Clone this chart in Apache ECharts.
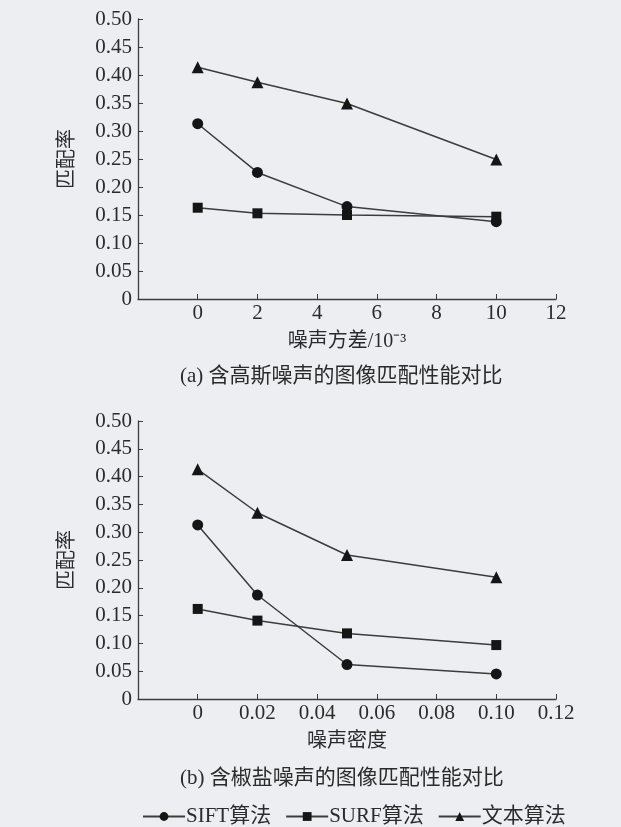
<!DOCTYPE html>
<html>
<head>
<meta charset="utf-8">
<script src="https://cdn.jsdelivr.net/npm/echarts@6/dist/echarts.min.js"></script>
<style>
html,body{margin:0;padding:0;background:#eceef2;}
#c{width:621px;height:827px;}
</style>
</head>
<body>
<div id="c"></div>
<script>
var xA = [0, 2, 5, 10];
var siftA = [0.313, 0.226, 0.165, 0.138];
var surfA = [0.163, 0.153, 0.150, 0.147];
var textA = [0.414, 0.387, 0.349, 0.249];

var xB = [0, 0.02, 0.05, 0.10];
var siftB = [0.313, 0.187, 0.062, 0.045];
var surfB = [0.162, 0.141, 0.118, 0.097];
var textB = [0.413, 0.335, 0.259, 0.219];

var seriesNames = ['SIFT算法', 'SURF算法', '文本算法'];
var xNameA = '噪声方差/10⁻³';
var xNameB = '噪声密度';
var yName = '匹配率';
var captionA = '(a) 含高斯噪声的图像匹配性能对比';
var captionB = '(b) 含椒盐噪声的图像匹配性能对比';

var FONT = '"Liberation Serif", "Noto Sans CJK SC", serif';
var TXT = '#2b2b2b';
var LINE = '#3c3c3c';
var MARK = '#151515';

function pairs(xs, ys){ return xs.map(function(x,i){ return [x, ys[i]]; }); }

function yAxis(gi){
  return {
    type:'value', gridIndex:gi, min:0, max:0.5, interval:0.05,
    name:yName, nameLocation:'middle', nameRotate:90, nameGap:60,
    nameTextStyle:{fontFamily:FONT, fontSize:20, color:TXT},
    axisLine:{show:true, onZero:false, lineStyle:{color:LINE, width:1.3}},
    axisTick:{show:true, inside:true, length:5, lineStyle:{color:LINE}},
    splitLine:{show:false},
    axisLabel:{fontFamily:FONT, fontSize:21, color:TXT, margin:6,
      formatter:function(v){ return v===0 ? '0' : v.toFixed(2); }}
  };
}
function xAxis(gi, min, max, interval, name, fmt){
  return {
    type:'value', gridIndex:gi, min:min, max:max, interval:interval,
    name:name, nameLocation:'middle', nameGap:33,
    nameTextStyle:{fontFamily:FONT, fontSize:20, color:TXT},
    axisLine:{show:true, onZero:false, lineStyle:{color:LINE, width:1.3}},
    axisTick:{show:true, inside:true, length:5, lineStyle:{color:LINE}},
    splitLine:{show:false},
    axisLabel:{fontFamily:FONT, fontSize:21, color:TXT, margin:4, formatter:fmt, showMinLabel:false}
  };
}
var symbols = ['circle', 'rect', 'triangle'];
var sizes = [11, 10, 12];
function mk(name, idx, gi, data){
  return {
    type:'line', name:name, xAxisIndex:gi, yAxisIndex:gi, data:data,
    symbol:symbols[idx], symbolSize:sizes[idx],
    lineStyle:{color:LINE, width:1.5},
    itemStyle:{color:MARK},
    animation:false
  };
}

var chart = echarts.init(document.getElementById('c'), null, {renderer:'canvas'});
chart.setOption({
  backgroundColor:'#eceef2',
  animation:false,
  grid:[
    {left:138, top:19, width:418, height:280},
    {left:138, top:421, width:418, height:278}
  ],
  xAxis:[
    xAxis(0, -2, 12, 2, xNameA, function(v){ return v < 0 ? '' : String(v); }),
    xAxis(1, -0.02, 0.12, 0.02, xNameB, function(v){ return v < 0 ? '' : (Math.abs(v) < 1e-9 ? '0' : v.toFixed(2)); })
  ],
  yAxis:[ yAxis(0), yAxis(1) ],
  legend:{
    data:seriesNames, left:137, top:801, itemWidth:42, itemHeight:11, itemGap:14,
    textStyle:{fontFamily:FONT, fontSize:21, color:TXT, padding:[0,0,0,-4]}
  },
  graphic:[
    {type:'text', left:180, top:366, style:{text:captionA, font:'21px ' + FONT, fill:TXT}},
    {type:'text', left:180, top:768, style:{text:captionB, font:'21px ' + FONT, fill:TXT}}
  ],
  series:[
    mk(seriesNames[0], 0, 0, pairs(xA, siftA)),
    mk(seriesNames[1], 1, 0, pairs(xA, surfA)),
    mk(seriesNames[2], 2, 0, pairs(xA, textA)),
    mk(seriesNames[0], 0, 1, pairs(xB, siftB)),
    mk(seriesNames[1], 1, 1, pairs(xB, surfB)),
    mk(seriesNames[2], 2, 1, pairs(xB, textB))
  ]
});
</script>
</body>
</html>
